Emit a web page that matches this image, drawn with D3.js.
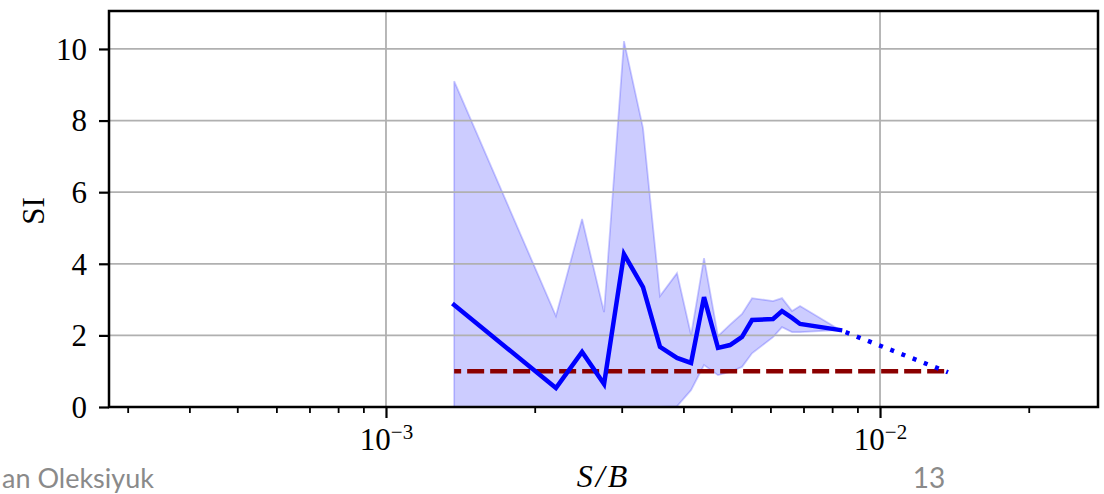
<!DOCTYPE html>
<html>
<head>
<meta charset="utf-8">
<script src="https://cdn.jsdelivr.net/npm/d3@7/dist/d3.min.js"></script>
<style>
  html, body { margin: 0; padding: 0; background: #fff; }
  svg { display: block; }
</style>
</head>
<body>
<svg id="chart" width="1104" height="494"></svg>
<script>
// Signal-to-background ratio sweep
const sb = [1.374e-3, 2.208e-3, 2.494e-3, 2.763e-3, 3.032e-3, 3.313e-3, 3.586e-3,
            3.882e-3, 4.145e-3, 4.403e-3, 4.699e-3, 4.970e-3, 5.256e-3, 5.507e-3,
            6.073e-3, 6.333e-3, 6.637e-3, 6.889e-3, 8.299e-3];
// Mean significance improvement and its band
const siMean  = [2.85, 0.53, 1.54, 0.64, 4.27, 3.35, 1.68, 1.37, 1.23, 3.07,
                 1.65, 1.73, 1.96, 2.43, 2.46, 2.68, 2.49, 2.32, 2.15];
const siUpper = [9.10, 2.54, 5.25, 2.65, 10.22, 7.79, 3.10, 3.74, 2.01, 4.16,
                 1.98, 2.30, 2.60, 3.04, 2.96, 3.04, 2.68, 2.82, 2.15];
const siLower = [0.00, 0.00, 0.00, 0.00, 0.00, 0.00, 0.00, 0.02, 0.47, 1.17,
                 0.89, 0.98, 1.12, 1.50, 1.95, 2.23, 2.09, 2.09, 2.15];
// Extrapolated tail
const sbTail = [8.299e-3, 1.373e-2];
const siTail = [2.15, 0.97];
// Reference level SI = 1
const sbRef = [1.374e-3, 1.373e-2];
const siRef = [1.0, 1.0];

const yTicks = [0, 2, 4, 6, 8, 10];
const xMajor = [1e-3, 1e-2];
const xMinor = [3e-4, 4e-4, 5e-4, 6e-4, 7e-4, 8e-4, 9e-4,
                2e-3, 3e-3, 4e-3, 5e-3, 6e-3, 7e-3, 8e-3, 9e-3, 2e-2];

const svg = d3.select("#chart");
const L = 109, R = 1098, T = 11, B = 407;

const x = d3.scaleLog().domain([2.750e-4, 2.762e-2]).range([L, R]);
const y = d3.scaleLinear().domain([0, 11.06]).range([B, T]);

svg.append("defs").append("clipPath").attr("id", "plotArea")
  .append("rect").attr("x", L).attr("y", T).attr("width", R - L).attr("height", B - T);

const plot = svg.append("g").attr("clip-path", "url(#plotArea)");

// Band
const pts = sb.map((v, i) => ({ x: v, m: siMean[i], u: siUpper[i], l: siLower[i] }));
const area = d3.area().x(d => x(d.x)).y0(d => y(d.l)).y1(d => y(d.u));
plot.append("path").datum(pts)
  .attr("d", area)
  .attr("fill", "rgba(0,0,255,0.2)")
  .attr("stroke", "rgba(0,0,255,0.2)")
  .attr("stroke-width", 1.8)
  .attr("stroke-linejoin", "miter");

// Grid
const grid = plot.append("g").attr("stroke", "#b0b0b0").attr("stroke-width", 1.8);
grid.selectAll("line.gy").data(yTicks).join("line")
  .attr("x1", L).attr("x2", R).attr("y1", d => y(d)).attr("y2", d => y(d));
grid.selectAll("line.gx").data(xMajor).join("line")
  .attr("y1", T).attr("y2", B).attr("x1", d => x(d)).attr("x2", d => x(d));

// Reference line
const line = d3.line().x(d => x(d[0])).y(d => y(d[1]));
plot.append("path").datum(sbRef.map((v, i) => [v, siRef[i]]))
  .attr("d", line).attr("fill", "none")
  .attr("stroke", "#8b0000").attr("stroke-width", 4.5)
  .attr("stroke-dasharray", "17,6").attr("stroke-dashoffset", 10);

// Mean curve
plot.append("path").datum(pts.map(d => [d.x, d.m]))
  .attr("d", line).attr("fill", "none")
  .attr("stroke", "#0000ff").attr("stroke-width", 4.5)
  .attr("stroke-linejoin", "miter").attr("stroke-linecap", "square");

// Extrapolated tail
plot.append("path").datum(sbTail.map((v, i) => [v, siTail[i]]))
  .attr("d", line).attr("fill", "none")
  .attr("stroke", "#0000ff").attr("stroke-width", 4.5)
  .attr("stroke-dasharray", "4,8").attr("stroke-dashoffset", -6);

// Axes
const serif = "'Liberation Serif', 'DejaVu Serif', serif";

const yAxis = svg.append("g").attr("transform", `translate(${L},0)`)
  .call(d3.axisLeft(y).tickValues(yTicks).tickSize(10).tickPadding(12).tickFormat(d3.format("d")));
yAxis.select(".domain").remove();
yAxis.selectAll(".tick line").attr("stroke", "#000").attr("stroke-width", 2.2);
yAxis.selectAll(".tick text").attr("font-family", serif).attr("font-size", 31)
  .attr("fill", "#000").attr("dy", "0.33em");

const xAxis = svg.append("g").attr("transform", `translate(0,${B})`)
  .call(d3.axisBottom(x).tickValues(xMajor).tickSize(11).tickFormat(() => ""));
xAxis.select(".domain").remove();
xAxis.selectAll(".tick line").attr("stroke", "#000").attr("stroke-width", 2.2);
xAxis.selectAll(".tick text").each(function (d) {
  const t = d3.select(this);
  t.attr("y", 43).attr("dy", null).attr("font-family", serif).attr("font-size", 31).attr("fill", "#000");
  t.append("tspan").text("10");
  t.append("tspan").attr("dy", -11).attr("font-size", 21).text("\u2212" + Math.abs(Math.round(Math.log10(d))));
});

const xMinorAxis = svg.append("g").attr("transform", `translate(0,${B})`)
  .call(d3.axisBottom(x).tickValues(xMinor).tickSize(6).tickFormat(() => ""));
xMinorAxis.select(".domain").remove();
xMinorAxis.selectAll(".tick line").attr("stroke", "#000").attr("stroke-width", 1.8);

// Frame
svg.append("rect").attr("x", L).attr("y", T).attr("width", R - L).attr("height", B - T)
  .attr("fill", "none").attr("stroke", "#000").attr("stroke-width", 2.5);

// Axis titles
svg.append("text").attr("transform", `translate(44,211) rotate(-90)`)
  .attr("text-anchor", "middle").attr("font-family", serif).attr("font-size", 31)
  .text("SI");
svg.append("text").attr("x", (L + R) / 2).attr("y", 487)
  .attr("text-anchor", "middle").attr("font-family", serif).attr("font-size", 32)
  .attr("font-style", "italic").attr("letter-spacing", 3)
  .text("S/B");

// Footer
const sans = "Lato, 'Open Sans', sans-serif";
svg.append("text").attr("x", 2).attr("y", 488).attr("text-anchor", "start")
  .attr("font-family", sans).attr("font-size", 27).attr("fill", "#8a8a8a")
  .text("an Oleksiyuk");
svg.append("text").attr("x", 929).attr("y", 488).attr("text-anchor", "middle")
  .attr("font-family", sans).attr("font-size", 28).attr("fill", "#8a8a8a")
  .text("13");
</script>
</body>
</html>
